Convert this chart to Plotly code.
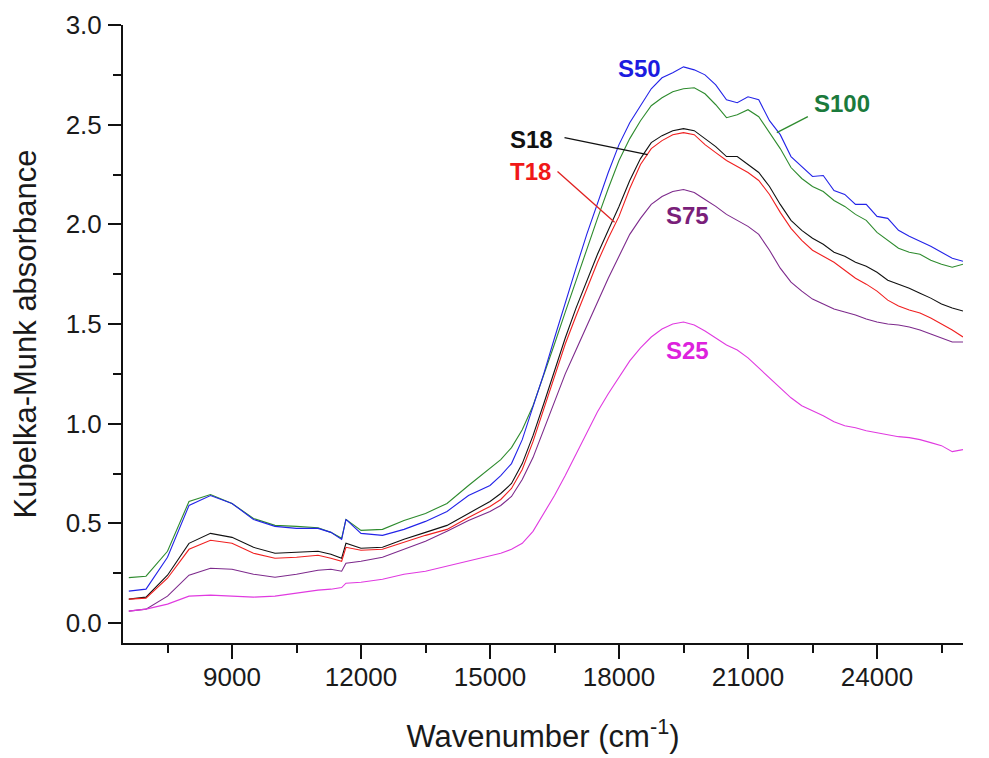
import plotly.graph_objects as go

wavenumber = [6600, 7000, 7500, 8000, 8500, 9000, 9500, 10000, 10500, 11000, 11300, 11550, 11650,
              12000, 12500, 13000, 13500, 14000, 14500, 15000, 15250, 15500, 15750, 16000, 16250,
              16500, 16750, 17000, 17250, 17500, 17750, 18000, 18250, 18500, 18750,
              19000, 19250, 19500, 19750, 20000, 20250, 20500, 20750, 21000, 21250, 21500, 21750,
              22000, 22250, 22500, 22750, 23000, 23250, 23500, 23750, 24000, 24250, 24500, 24750,
              25000, 25250, 25500, 25750, 26000]

s50 = [0.16, 0.17, 0.33, 0.59, 0.64, 0.60, 0.52, 0.485, 0.475, 0.475, 0.455, 0.42, 0.52,
       0.45, 0.44, 0.47, 0.51, 0.56, 0.64, 0.69, 0.74, 0.80, 0.92, 1.08, 1.25,
       1.43, 1.61, 1.78, 1.95, 2.11, 2.26, 2.40, 2.51, 2.595, 2.68,
       2.735, 2.76, 2.79, 2.775, 2.75, 2.70, 2.625, 2.61, 2.64, 2.625, 2.52, 2.45,
       2.34, 2.29, 2.24, 2.245, 2.17, 2.15, 2.10, 2.10, 2.04, 2.03, 1.97, 1.94,
       1.915, 1.89, 1.86, 1.83, 1.815]

s100 = [0.228, 0.235, 0.36, 0.61, 0.645, 0.60, 0.525, 0.49, 0.485, 0.478, 0.455, 0.425, 0.52,
        0.465, 0.47, 0.515, 0.55, 0.60, 0.69, 0.775, 0.82, 0.88, 0.97, 1.09, 1.24,
        1.40, 1.56, 1.72, 1.88, 2.03, 2.18, 2.32, 2.43, 2.52, 2.595,
        2.635, 2.665, 2.68, 2.685, 2.655, 2.60, 2.535, 2.55, 2.575, 2.54, 2.46, 2.38,
        2.285, 2.23, 2.19, 2.165, 2.12, 2.09, 2.05, 2.02, 1.96, 1.92, 1.88, 1.86,
        1.85, 1.82, 1.80, 1.785, 1.80]

s18 = [0.12, 0.13, 0.24, 0.40, 0.45, 0.43, 0.38, 0.35, 0.355, 0.36, 0.345, 0.325, 0.40,
       0.375, 0.38, 0.42, 0.455, 0.49, 0.55, 0.61, 0.65, 0.70, 0.80, 0.94, 1.10,
       1.27, 1.43, 1.58, 1.72, 1.85, 1.97, 2.09, 2.22, 2.33, 2.41,
       2.445, 2.47, 2.48, 2.47, 2.43, 2.39, 2.34, 2.34, 2.30, 2.26, 2.19, 2.10,
       2.02, 1.97, 1.93, 1.90, 1.86, 1.84, 1.81, 1.79, 1.76, 1.72, 1.70, 1.68,
       1.655, 1.63, 1.60, 1.58, 1.565]

t18 = [0.12, 0.125, 0.225, 0.37, 0.415, 0.40, 0.35, 0.325, 0.33, 0.34, 0.325, 0.31, 0.38,
       0.365, 0.37, 0.405, 0.44, 0.47, 0.53, 0.585, 0.62, 0.675, 0.77, 0.91, 1.07,
       1.24, 1.40, 1.54, 1.68, 1.81, 1.93, 2.04, 2.18, 2.30, 2.38,
       2.42, 2.45, 2.46, 2.45, 2.40, 2.36, 2.32, 2.29, 2.26, 2.22, 2.15, 2.06,
       1.98, 1.92, 1.87, 1.84, 1.81, 1.77, 1.73, 1.70, 1.665, 1.62, 1.59, 1.57,
       1.555, 1.53, 1.50, 1.47, 1.435]

s75 = [0.06, 0.07, 0.135, 0.24, 0.275, 0.27, 0.245, 0.23, 0.245, 0.265, 0.27, 0.26, 0.30,
       0.31, 0.33, 0.37, 0.41, 0.46, 0.515, 0.56, 0.59, 0.635, 0.72, 0.83, 0.97,
       1.12, 1.25, 1.37, 1.49, 1.61, 1.73, 1.84, 1.95, 2.03, 2.10,
       2.14, 2.165, 2.175, 2.16, 2.125, 2.09, 2.05, 2.02, 1.99, 1.95, 1.87, 1.78,
       1.71, 1.665, 1.625, 1.60, 1.575, 1.56, 1.545, 1.525, 1.51, 1.50, 1.495, 1.485,
       1.47, 1.45, 1.43, 1.41, 1.41]

s25 = [0.06, 0.07, 0.095, 0.135, 0.14, 0.135, 0.13, 0.135, 0.15, 0.165, 0.17, 0.178, 0.20,
       0.205, 0.22, 0.245, 0.26, 0.285, 0.31, 0.335, 0.35, 0.37, 0.40, 0.46, 0.55,
       0.64, 0.74, 0.845, 0.955, 1.06, 1.15, 1.235, 1.315, 1.38, 1.435,
       1.475, 1.50, 1.51, 1.495, 1.465, 1.43, 1.395, 1.37, 1.33, 1.28, 1.23, 1.18,
       1.13, 1.09, 1.065, 1.04, 1.01, 0.99, 0.98, 0.965, 0.955, 0.945, 0.935, 0.93,
       0.92, 0.905, 0.89, 0.86, 0.87]

series_names = ["S100", "S50", "S18", "T18", "S75", "S25"]
series_values = [s100, s50, s18, t18, s75, s25]
series_colors = ["#2e8b2e", "#2323e8", "#111111", "#f02020", "#7d2a8c", "#e03ae0"]

# labels: text, x, y, color
label_text = ["S50", "S100", "S18", "T18", "S75", "S25"]
label_x = [18480, 23184, 15964, 15940, 19597, 19597]
label_y = [2.78, 2.605, 2.425, 2.265, 2.045, 1.365]
label_color = ["#1c1ce0", "#1b7a3c", "#111111", "#f01818", "#7a1f7a", "#dd22dd"]

# leader lines: x0, y0, x1, y1, color
leader_x0 = [16733, 16570, 22392]
leader_y0 = [2.435, 2.265, 2.54]
leader_x1 = [18666, 17897, 21670]
leader_y1 = [2.35, 2.01, 2.46]
leader_color = ["#111111", "#e02020", "#2e8b2e"]

FONT = "Liberation Sans, Arial, sans-serif"

fig = go.Figure()
for name, vals, col in zip(series_names, series_values, series_colors):
    fig.add_trace(go.Scatter(x=wavenumber, y=vals, mode="lines", name=name,
                             line=dict(color=col, width=1.1), showlegend=False))

for t, x, y, c in zip(label_text, label_x, label_y, label_color):
    fig.add_annotation(x=x, y=y, xref="x", yref="y", text="<b>%s</b>" % t, showarrow=False,
                       font=dict(family=FONT, size=24, color=c))

for x0, y0, x1, y1, c in zip(leader_x0, leader_y0, leader_x1, leader_y1, leader_color):
    fig.add_shape(type="line", x0=x0, y0=y0, x1=x1, y1=y1, xref="x", yref="y",
                  line=dict(color=c, width=1.3))

# page body has an 8px margin, so the figure is shrunk and margins offset by 8px
fig.update_layout(
    width=981, height=750,
    margin=dict(l=115, r=26, t=17, b=115),
    paper_bgcolor="white", plot_bgcolor="white",
    font=dict(family=FONT, color="#1a1a1a"),
)

fig.update_xaxes(
    range=[6465, 26000], tickmode="linear", tick0=0, dtick=3000, tickformat="d",
    automargin=False,
    showline=True, linewidth=2, linecolor="#111", showgrid=False, zeroline=False,
    ticks="outside", ticklen=14, tickwidth=2, tickcolor="#111",
    tickfont=dict(family=FONT, size=26, color="#1a1a1a"), ticklabelstandoff=-4,
    minor=dict(dtick=1500, tick0=0, ticks="outside", ticklen=8, tickwidth=2, tickcolor="#111", showgrid=False),
    title=dict(text="Wavenumber (cm<sup>-1</sup>)", font=dict(family=FONT, size=31, color="#1a1a1a"), standoff=34),
)
fig.update_yaxes(
    range=[-0.1, 3.0], tickmode="linear", tick0=0, dtick=0.5, tickformat=".1f",
    automargin=False,
    showline=True, linewidth=2, linecolor="#111", showgrid=False, zeroline=False,
    ticks="outside", ticklen=13, tickwidth=2, tickcolor="#111",
    tickfont=dict(family=FONT, size=26, color="#1a1a1a"), ticklabelstandoff=1,
    minor=dict(dtick=0.25, tick0=0, ticks="outside", ticklen=8, tickwidth=2, tickcolor="#111", showgrid=False),
    title=dict(text="Kubelka-Munk absorbance", font=dict(family=FONT, size=31, color="#1a1a1a"), standoff=24),
)

fig.write_html("out.html")
